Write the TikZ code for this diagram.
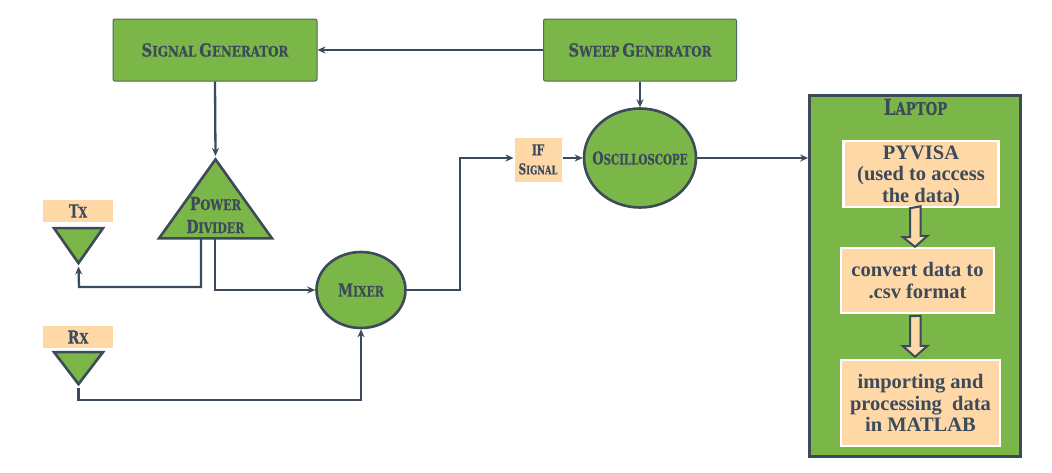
\documentclass[tikz,border=0pt]{standalone}
\usepackage{fontspec}
\usepackage{graphicx}
\usetikzlibrary{shapes.geometric,arrows.meta}
\setmainfont{Liberation Serif}
\newfontfamily\dispfont{DejaVu Serif}[BoldFeatures={FakeBold=0.4}]
\definecolor{grn}{HTML}{7AB648}
\definecolor{ink}{HTML}{3D4A5A}
\definecolor{peach}{HTML}{FFD8A8}
% display lettering: large initial + small capitals, squeezed sideways
\newcommand{\CapWord}[2]{{\fontsize{18}{18}\selectfont #1}{\fontsize{14.5}{14.5}\selectfont #2}}
\newcommand{\Disp}[2][0.76]{\scalebox{#1}[1]{\dispfont\bfseries #2}}
\tikzset{
  wire/.style={draw=ink,line width=2.3pt,line join=miter,-{Stealth[length=8pt,width=7pt]}},
  genbox/.style={draw=ink!70!grn,fill=grn,line width=1pt,rounded corners=2pt,inner sep=0pt,text=ink},
  roundbox/.style={ellipse,draw=ink,fill=grn,line width=2.6pt,inner sep=0pt},
  disptext/.style={text=ink,inner sep=0pt,align=center},
  labelbox/.style={fill=peach,inner sep=0pt,text=ink},
  stepbox/.style={fill=peach,draw=white,line width=2.4pt,inner sep=0pt,text=ink,align=center,font=\fontsize{20.5}{21.5}\selectfont\bfseries},
  uptri/.style={isosceles triangle,isosceles triangle stretches,shape border rotate=90,draw=ink,fill=grn,line width=2.6pt,inner sep=0pt},
  downtri/.style={isosceles triangle,isosceles triangle stretches,shape border rotate=-90,draw=ink,fill=grn,line width=2.6pt,inner sep=0pt},
  hollow/.style={draw=ink,fill=peach,line width=2pt,line join=miter},
}
\begin{document}
\begin{tikzpicture}[x=1pt,y=-1pt]
\useasboundingbox (0,0) rectangle (1052,472);
\fill[white] (0,0) rectangle (1052,472);

% generators
\node[genbox,minimum width=204pt,minimum height=62pt] (sig) at (215,50) {\Disp[0.82]{\CapWord{S}{IGNAL} \CapWord{G}{ENERATOR}}};
\node[genbox,minimum width=193pt,minimum height=62pt] (sweep) at (640,50) {\Disp[0.82]{\CapWord{S}{WEEP} \CapWord{G}{ENERATOR}}};

% laptop
\node[draw=ink,fill=grn,line width=2.8pt,minimum width=211pt,minimum height=361pt,inner sep=0pt] (laptop) at (915,276) {};
\node[disptext] (laptoptext) at (915.5,107) {\Disp{{\fontsize{22}{22}\selectfont L}{\fontsize{17.5}{17.5}\selectfont APTOP}}};
\node[stepbox,minimum width=155pt,minimum height=66pt] (pyvisa) at (921,174) {\rule{0pt}{18pt}PYVISA\\[-0.5pt](used to access\\the data)};
\node[stepbox,minimum width=153pt,minimum height=65pt] (csv) at (917.5,280.5) {convert data to\\.csv format};
\node[stepbox,minimum width=159pt,minimum height=86pt] (matlab) at (920.5,403) {importing and\\processing~~data\\in MATLAB};

% hollow arrows
\path (pyvisa.south) ++(-6,0) coordinate (a1top);
\path (csv.north) ++(-2.5,0) coordinate (a1tip);
\path (csv.south) ++(-2.5,2) coordinate (a2top);
\path (matlab.north) ++(-5.5,-2) coordinate (a2tip);
\draw[hollow] (a1top) ++(-5,0) -- ++(0,29) -- ++(-7,0) -- (a1tip) -- ++(12.5,-11) -- ++(-7,0) -- ++(0,-29.5) -- cycle;
\draw[hollow] (a2top) ++(-5,0) -- ++(0,30) -- ++(-7,0) -- (a2tip) -- ++(12.5,-11) -- ++(-7,0) -- ++(0,-30) -- cycle;

% round blocks
\node[roundbox,minimum width=112pt,minimum height=99pt] (osc) at (640,158) {};
\node[disptext] (osctext) at (640,158) {\Disp[0.71]{\CapWord{O}{SCILLOSCOPE}}};
\node[roundbox,minimum width=89pt,minimum height=76pt] (mixer) at (361,290) {};
\node[disptext] (mixertext) at (361,290) {\Disp[0.75]{\CapWord{M}{IXER}}};

% labels
\node[labelbox,draw=white,line width=1pt,minimum width=48pt,minimum height=45pt,align=center,font=\fontsize{15}{19}\selectfont] (ifsig) at (538,159.5) {\Disp[0.7]{\fontsize{15}{15}\selectfont IF}\\\Disp[0.7]{{\fontsize{15}{15}\selectfont S}{\fontsize{12}{12}\selectfont IGNAL}}};
\node[labelbox,minimum width=70pt,minimum height=22pt] (txl) at (78,211) {\Disp[0.74]{\CapWord{T}{X}}};
\node[labelbox,minimum width=70pt,minimum height=22pt] (rxl) at (78,337) {\Disp[0.8]{\CapWord{R}{X}}};

% triangles
\node[uptri,minimum width=113pt,minimum height=79pt,anchor=apex] (pd) at (215.5,156) {};
\node[disptext,font=\fontsize{18}{23}\selectfont] (pdt) at (215.5,215) {\Disp[0.78]{\CapWord{P}{OWER}}\\\Disp[0.76]{\CapWord{D}{IVIDER}}};
\node[downtri,minimum width=49pt,minimum height=35pt,anchor=apex] (tx) at (78.5,266.5) {};
\node[downtri,minimum width=49pt,minimum height=32pt,anchor=apex] (rx) at (78.5,387.5) {};

% taps on the divider's base
\coordinate (pdl) at (201,237);
\coordinate (pdr) at (215,237);

% connectors
\draw[wire] (sweep.west) -- (sig.east);
\draw[wire] (sig.south) -- (pd.apex);
\draw[wire] (sweep.south) -- (osc.north);
\draw[wire] (osc.east) -- (laptop.west |- osc.east);
\draw[wire] (ifsig.east |- osc.west) -- (osc.west);
\draw[wire] (pdl) |- (79,287) -- (tx.apex);
\draw[wire] (pdr) |- (mixer.west);
\draw[wire] (rx.apex) |- (361,400) -- (mixer.south);
\draw[wire] (mixer.east) -| (460,158) -- (ifsig.west |- osc.west);
\end{tikzpicture}
\end{document}
